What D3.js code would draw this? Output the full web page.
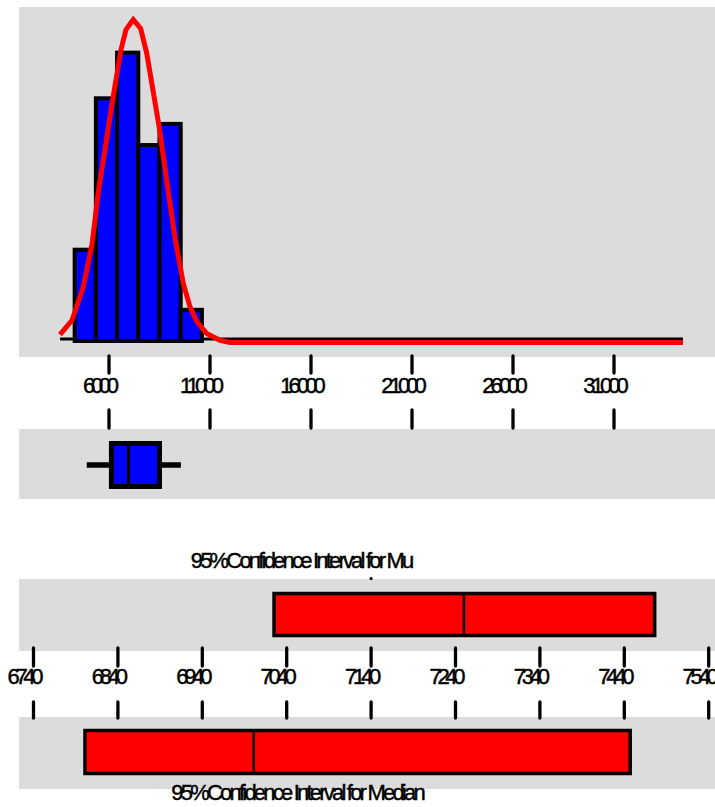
<!DOCTYPE html>
<html>
<head>
<meta charset="utf-8">
<script src="https://cdn.jsdelivr.net/npm/d3@7"></script>
<style>
  body { margin: 0; background: #fff; }
  text { font-family: "Liberation Sans", Arial, sans-serif; font-size: 22px; fill: #000;
         stroke: #000; stroke-width: 0.45px; }
</style>
</head>
<body>
<div class="chart"></div>
<script>
// Graphical summary: histogram + normal fit, boxplot, 95% CI for mu and median

// histogram data
var histTicks = [6000, 11000, 16000, 21000, 26000, 31000];
var binEdges = [4300, 5350, 6400, 7450, 8500, 9550, 10600];
var binCounts = [8.2, 21.8, 25.9, 17.6, 19.5, 2.8];
var dataRange = [3580, 34416];

// fitted normal curve
var curveX = [3574, 4168, 4713, 5158, 5470, 5886, 6134, 6594, 6842, 7203, 7569, 7866,
    8193, 8525, 8936, 9267, 9678, 10010, 10342, 10837, 11495, 11990, 34416];
var curveY = [0.7, 2.0, 4.9, 8.8, 13.5, 18.3, 21.3, 26.3, 28.1, 29.0, 28.2, 26.0,
    22.5, 18.9, 13.5, 9.4, 5.3, 3.2, 1.9, 0.8, 0.2, 0, 0];

// boxplot: whisker low, Q1, median, Q3, whisker high
var boxStats = [4900, 6120, 6965, 8500, 9560];

// confidence intervals: low, center, high
var ciTicks = [6740, 6840, 6940, 7040, 7140, 7240, 7340, 7440, 7540];
var muCI = [7025, 7250, 7476];
var medianCI = [6801, 7001, 7447];

var svgWidth = 715;
var svgHeight = 807;

var svg = d3.select(".chart").append("svg")
    .attr("width", svgWidth)
    .attr("height", svgHeight);

var grey = "#dcdcdc";

// scales
var xHist = d3.scaleLinear().domain([6000, 31000]).range([109, 614]);
var yHist = d3.scaleLinear().domain([0, 30]).range([341, 7]);
var xCI = d3.scaleLinear().domain([6740, 7540]).range([33.5, 708.7]);

// panel backgrounds
var panels = [[7, 357], [429, 499], [579, 651], [717, 789]];
svg.append("g").selectAll("rect")
    .data(panels)
    .enter()
    .append("rect")
    .attr("x", 19)
    .attr("y", d => d[0])
    .attr("width", svgWidth - 19)
    .attr("height", d => d[1] - d[0])
    .attr("fill", grey);

// squeeze text like the original's narrow font
function squeeze(sel, k) {
    sel.each(function() {
        var w = this.getComputedTextLength();
        d3.select(this)
            .attr("textLength", w * k)
            .attr("lengthAdjust", "spacing");
    });
}

// tick marks above and below a row of labels
function tickRow(scale, ticks, y0, y1, y2, y3, labelY) {
    var g = svg.append("g");
    g.selectAll("line.up")
        .data(ticks)
        .enter()
        .append("line")
        .attr("x1", d => scale(d)).attr("x2", d => scale(d))
        .attr("y1", y0).attr("y2", y1)
        .attr("stroke", "#000").attr("stroke-width", 3.3)
        .attr("stroke-linecap", "round");
    g.selectAll("line.down")
        .data(ticks)
        .enter()
        .append("line")
        .attr("x1", d => scale(d)).attr("x2", d => scale(d))
        .attr("y1", y2).attr("y2", y3)
        .attr("stroke", "#000").attr("stroke-width", 3.3)
        .attr("stroke-linecap", "round");
    var labels = g.selectAll("text")
        .data(ticks)
        .enter()
        .append("text")
        .attr("x", d => scale(d) - 8)
        .attr("y", labelY)
        .attr("text-anchor", "middle")
        .text(d => d);
    squeeze(labels, 0.74);
}

// histogram
var hist = svg.append("g");

hist.append("line")
    .attr("x1", xHist(dataRange[0]))
    .attr("x2", xHist(dataRange[1]))
    .attr("y1", yHist(0) - 2)
    .attr("y2", yHist(0) - 2)
    .attr("stroke", "#000")
    .attr("stroke-width", 3);

hist.selectAll("rect")
    .data(binCounts)
    .enter()
    .append("rect")
    .attr("x", (d, i) => xHist(binEdges[i]))
    .attr("y", d => yHist(d))
    .attr("width", (d, i) => xHist(binEdges[i + 1]) - xHist(binEdges[i]))
    .attr("height", d => yHist(0) - yHist(d))
    .attr("fill", "#0000ff")
    .attr("stroke", "#000")
    .attr("stroke-width", 4);

var curve = d3.line()
    .x(d => xHist(d[0]))
    .y(d => yHist(d[1]));

hist.append("path")
    .datum(d3.zip(curveX, curveY))
    .attr("d", curve)
    .attr("transform", "translate(0,1.5)")
    .attr("fill", "none")
    .attr("stroke", "#ff0000")
    .attr("stroke-width", 5)
    .attr("stroke-linejoin", "miter");

tickRow(xHist, histTicks, 356, 373, 410, 428, 393);

// boxplot
var box = svg.append("g");
var boxMid = 465;

box.append("line")
    .attr("x1", xHist(boxStats[0]))
    .attr("x2", xHist(boxStats[4]))
    .attr("y1", boxMid).attr("y2", boxMid)
    .attr("stroke", "#000")
    .attr("stroke-width", 5.5);

box.append("rect")
    .attr("x", xHist(boxStats[1]))
    .attr("y", boxMid - 21.5)
    .attr("width", xHist(boxStats[3]) - xHist(boxStats[1]))
    .attr("height", 43)
    .attr("fill", "#0000ff")
    .attr("stroke", "#000")
    .attr("stroke-width", 5);

box.append("line")
    .attr("x1", xHist(boxStats[2])).attr("x2", xHist(boxStats[2]))
    .attr("y1", boxMid - 21.5).attr("y2", boxMid + 21.5)
    .attr("stroke", "#000")
    .attr("stroke-width", 3);

// confidence interval boxes
function ciBox(ci, top, bottom) {
    var g = svg.append("g");
    g.append("rect")
        .attr("x", xCI(ci[0]))
        .attr("y", top)
        .attr("width", xCI(ci[2]) - xCI(ci[0]))
        .attr("height", bottom - top)
        .attr("fill", "#ff0000")
        .attr("stroke", "#000")
        .attr("stroke-width", 3.5);
    g.append("line")
        .attr("x1", xCI(ci[1])).attr("x2", xCI(ci[1]))
        .attr("y1", top).attr("y2", bottom)
        .attr("stroke", "#000")
        .attr("stroke-width", 2.5);
}

ciBox(muCI, 593.5, 635.5);
ciBox(medianCI, 730.5, 773.5);

// stray dot above the mu panel
svg.append("circle")
    .attr("cx", xCI(7140))
    .attr("cy", 578.5)
    .attr("r", 1.6)
    .attr("fill", "#000");

tickRow(xCI, ciTicks, 648, 666, 702, 718, 684);

// titles
var muTitle = svg.append("text")
    .attr("x", 302.5)
    .attr("y", 568)
    .attr("text-anchor", "middle")
    .text("95%Confidence Interval for Mu");
squeeze(muTitle, 0.74);

var medTitle = svg.append("text")
    .attr("x", 298.5)
    .attr("y", 800)
    .attr("text-anchor", "middle")
    .text("95%Confidence Interval for Median");
squeeze(medTitle, 0.74);
</script>
</body>
</html>
